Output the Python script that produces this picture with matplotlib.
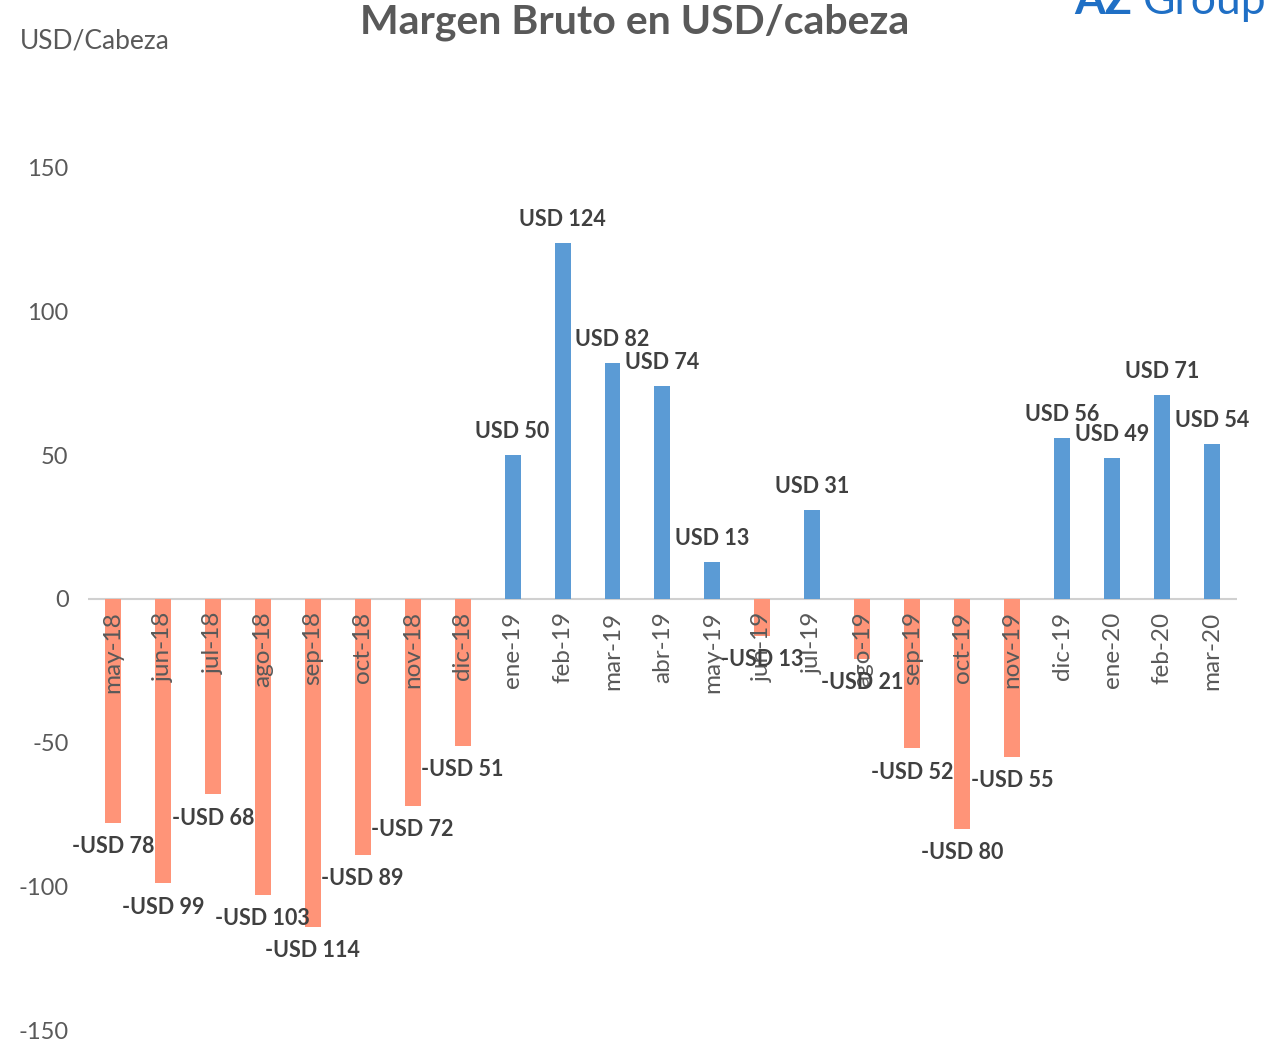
import matplotlib.pyplot as plt

months = ['may-18', 'jun-18', 'jul-18', 'ago-18', 'sep-18', 'oct-18', 'nov-18', 'dic-18',
          'ene-19', 'feb-19', 'mar-19', 'abr-19', 'may-19', 'jun-19', 'jul-19', 'ago-19',
          'sep-19', 'oct-19', 'nov-19', 'dic-19', 'ene-20', 'feb-20', 'mar-20']
margen = [-78, -99, -68, -103, -114, -89, -72, -51,
          50, 124, 82, 74, 13, -13, 31, -21,
          -52, -80, -55, 56, 49, 71, 54]
yticks = [-150, -100, -50, 0, 50, 100, 150]

plt.rcParams['font.family'] = ['Lato', 'DejaVu Sans']

fig = plt.figure(figsize=(12.64, 10.42), dpi=100)
ax = fig.add_axes([0.0696, 0.0115, 0.909, 0.8273])

x = range(len(months))
colors = ['#5B9BD5' if v >= 0 else '#FF9478' for v in margen]
ax.bar(x, margen, width=0.32, color=colors, zorder=2)

for i, v in enumerate(margen):
    if v >= 0:
        txt = 'USD %d' % v
        off = 17
    else:
        txt = '-USD %d' % abs(v)
        off = -17
    ax.annotate(txt, (i, v), xytext=(0, off), textcoords='offset points',
                ha='center', va='center', fontsize=15.5, fontweight='bold',
                color='#404040', zorder=4)

ax.set_xlim(-0.5, len(months) - 0.5)
ax.set_ylim(-150, 150)
ax.set_yticks(yticks)
ax.set_yticklabels([str(t) for t in yticks])
ax.axhline(0, color='#D0D0D0', lw=1.5, zorder=1)

for s in ax.spines.values():
    s.set_visible(False)
ax.tick_params(axis='y', length=0, labelsize=17, labelcolor='#595959', pad=14)
ax.set_xticks([])

# month labels hang just under the zero line
for i, m in enumerate(months):
    ax.annotate(m, (i, 0), xytext=(0, -9), textcoords='offset points',
                rotation=90, ha='center', va='top', fontsize=17.5,
                color='#595959', zorder=3)

fig.text(0.502, 0.979, 'Margen Bruto en USD/cabeza', ha='center', va='center',
         fontsize=29.5, fontweight='bold', color='#595959')
fig.text(0.016, 0.961, 'USD/Cabeza', ha='left', va='center',
         fontsize=19, color='#595959')
fig.text(0.850, 0.987, 'AZ', ha='left', va='baseline', fontsize=32,
         fontweight='bold', color='#1F6FC5')
fig.text(0.904, 0.987, 'Group', ha='left', va='baseline', fontsize=32,
         color='#1F6FC5')

fig.savefig('out.png', dpi=100)
